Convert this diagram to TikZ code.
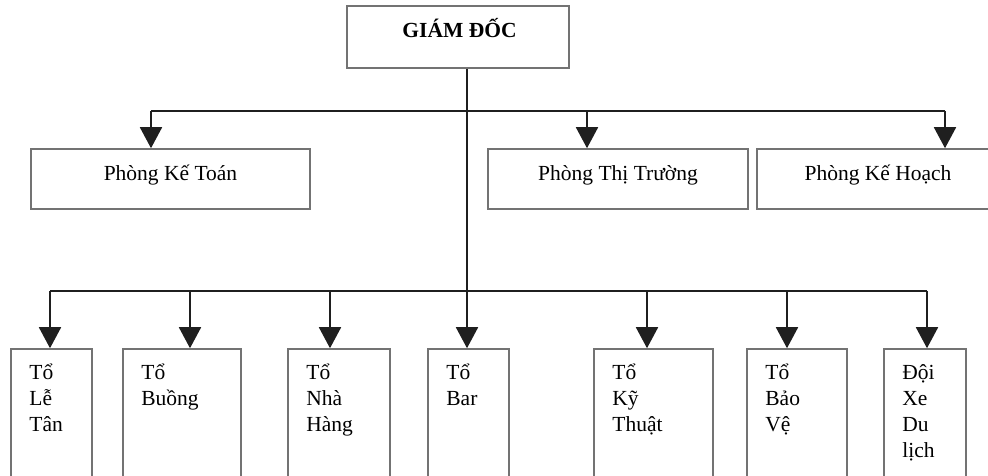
\documentclass[tikz,border=0pt]{standalone}
\usepackage{fontspec}
\setmainfont{Liberation Serif}
\usetikzlibrary{arrows.meta}
\begin{document}
\begin{tikzpicture}[x=1pt,y=-1pt,
  box/.style={draw=black!55, line width=1.6pt, inner sep=0pt, fill=white},
  lbl/.style={inner sep=0pt, font=\fontsize{21.5}{26}\selectfont},
  conn/.style={draw=black!88, line width=1.8pt},
  arr/.style={conn, -{Triangle[width=22pt,length=21pt]}}]
\clip (0,0) rectangle (988,475);
\fill[white] (0,0) rectangle (988,475);

% director
\node[box, minimum width=222pt, minimum height=62pt] (gd) at (458,37) {};
\node[lbl, anchor=base, font=\fontsize{21.5}{26}\selectfont\bfseries] (gdt) at ([xshift=1.5pt]gd.center) {GIÁM ĐỐC};

% departments
\node[box, minimum width=279pt, minimum height=60pt] (kt) at (170.5,179) {};
\node[box, minimum width=260pt, minimum height=60pt] (tt) at (618,179) {};
\node[box, minimum width=242pt, minimum height=60pt] (kh) at (878,179) {};
\node[lbl, anchor=base] (ktt) at ([yshift=-1pt]kt.center) {Phòng Kế Toán};
\node[lbl, anchor=base] (ttt) at ([yshift=-1pt]tt.center) {Phòng Thị Trường};
\node[lbl, anchor=base] (kht) at ([yshift=-1pt]kh.center) {Phòng Kế Hoạch};

% teams
\node[box, minimum width=81pt,  minimum height=141pt] (lt) at (51.5,419.5) {};
\node[box, minimum width=118pt, minimum height=141pt] (bu) at (182,419.5) {};
\node[box, minimum width=102pt, minimum height=141pt] (nh) at (339,419.5) {};
\node[box, minimum width=81pt,  minimum height=141pt] (ba) at (468.5,419.5) {};
\node[box, minimum width=119pt, minimum height=141pt] (ky) at (653.5,419.5) {};
\node[box, minimum width=100pt, minimum height=141pt] (bv) at (797,419.5) {};
\node[box, minimum width=82pt,  minimum height=141pt] (dx) at (925,419.5) {};

\foreach \b/\t in {lt/{Tổ\\Lễ\\Tân}, bu/{Tổ\\Buồng}, nh/{Tổ\\Nhà\\Hàng}, ba/{Tổ\\Bar},
                   ky/{Tổ\\Kỹ\\Thuật}, bv/{Tổ\\Bảo\\Vệ}, dx/{Đội\\Xe\\Du\\lịch}}
  \node[lbl, anchor=base west] (\b-t) at ([xshift=19pt,yshift=-31pt]\b.north west)
    {\begin{tabular}[t]{@{}l@{}}\t\end{tabular}};

% trunk and the two distribution buses
\coordinate (top) at ([xshift=-1.5pt]gd.south -| ba.north);
\coordinate (bus1) at ([yshift=-42pt]top);
\coordinate (bus2) at ([yshift=-222pt]top);
\draw[arr] (top) -- ([xshift=-1.5pt]ba.north);
\draw[conn] ([xshift=-19.5pt]kt.north |- bus1) -- ([xshift=67pt]kh.north |- bus1);
\draw[arr] ([xshift=-19.5pt]kt.north |- bus1) -- ([xshift=-19.5pt]kt.north);
\draw[arr] ([xshift=-31pt]tt.north |- bus1) -- ([xshift=-31pt]tt.north);
\draw[arr] ([xshift=67pt]kh.north |- bus1) -- ([xshift=67pt]kh.north);

\draw[conn] ([xshift=-1.5pt]lt.north |- bus2) -- ([xshift=2pt]dx.north |- bus2);
\draw[arr] ([xshift=-1.5pt]lt.north |- bus2) -- ([xshift=-1.5pt]lt.north);
\draw[arr] ([xshift=8pt]bu.north |- bus2) -- ([xshift=8pt]bu.north);
\draw[arr] ([xshift=-9pt]nh.north |- bus2) -- ([xshift=-9pt]nh.north);
\draw[arr] ([xshift=-6.5pt]ky.north |- bus2) -- ([xshift=-6.5pt]ky.north);
\draw[arr] ([xshift=-10pt]bv.north |- bus2) -- ([xshift=-10pt]bv.north);
\draw[arr] ([xshift=2pt]dx.north |- bus2) -- ([xshift=2pt]dx.north);
\end{tikzpicture}
\end{document}
